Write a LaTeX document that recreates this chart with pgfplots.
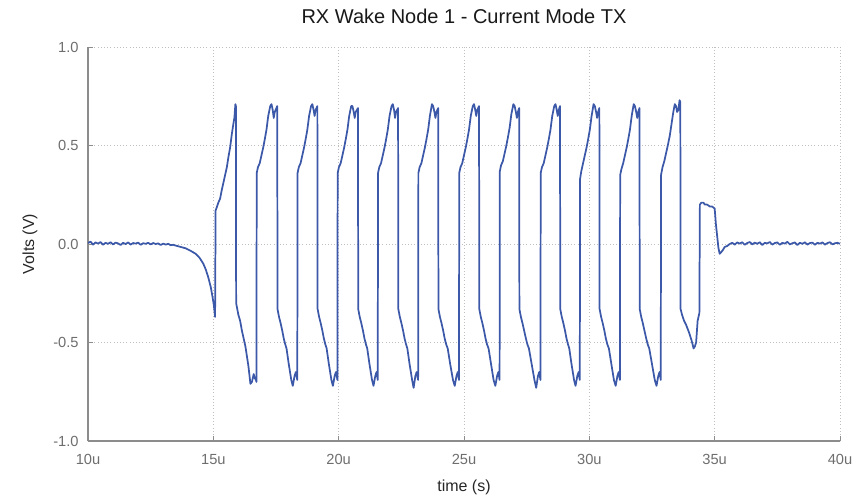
\documentclass[border=0pt]{standalone}
\usepackage{pgfplots}
\pgfplotsset{compat=1.18}
\usepackage{fontspec}
\setmainfont{Liberation Sans}
\definecolor{wave}{RGB}{60,88,168}
\definecolor{tickgray}{RGB}{110,110,110}
\definecolor{axgray}{RGB}{140,140,140}
\definecolor{gridgray}{RGB}{190,190,190}
\begin{document}
\begin{tikzpicture}
\begin{axis}[
  at={(0,0)}, anchor=south west,
  scale only axis, width=564pt, height=295.5pt,
  xmin=10, xmax=40, ymin=-1, ymax=1,
  xtick={10,15,20,25,30,35,40},
  xticklabels={10u,15u,20u,25u,30u,35u,40u},
  ytick={-1,-0.5,0,0.5,1},
  yticklabels={-1.0,-0.5,0.0,0.5,1.0},
  axis x line*=bottom, axis y line*=left,
  axis line style={axgray, line width=0.9pt},
  tick align=inside, major tick length=4pt,
  tick style={axgray, line width=0.6pt},
  grid=major,
  major grid style={gridgray, dotted, line width=0.6pt},
  ticklabel style={font=\fontsize{11}{13}\selectfont, text=tickgray},
  /pgf/number format/assume math mode=true,
  xticklabel style={yshift=-6.5pt},
  yticklabel style={xshift=-3.5pt},
  xlabel={time (s)}, ylabel={Volts (V)},
  label style={font=\fontsize{12}{14}\selectfont, text=black!85},
  xlabel style={yshift=-4.5pt},
  ylabel style={yshift=5pt},
  title={RX Wake Node 1 - Current Mode TX},
  title style={font=\fontsize{15}{18}\selectfont, text=black!90, yshift=8pt},
]
\addplot[wave, line width=1.3pt, line join=round] table {
10.0 0.005
10.1 0.012
10.2 -0.003
10.3 0.008
10.4 0.002
10.5 0.010
10.6 -0.004
10.7 0.006
10.8 0.001
10.9 0.009
11.0 -0.002
11.1 0.007
11.2 0.003
11.3 -0.005
11.4 0.006
11.5 0.000
11.6 0.008
11.7 -0.003
11.8 0.005
11.9 0.002
12.0 0.007
12.1 -0.004
12.2 0.004
12.3 0.001
12.4 0.006
12.5 -0.002
12.6 0.005
12.7 0.000
12.8 0.003
12.9 -0.005
13.0 0.002
13.1 -0.003
13.2 0.001
13.3 -0.006
13.4 -0.004
13.5 -0.008
13.7 -0.015
13.9 -0.022
14.1 -0.035
14.3 -0.05
14.45 -0.07
14.6 -0.10
14.7 -0.13
14.8 -0.17
14.9 -0.22
14.97 -0.27
15.02 -0.31
15.07 -0.37
15.09 0.17
15.12 0.18
15.2 0.21
15.27 0.23
15.33 0.27
15.40 0.31
15.47 0.35
15.54 0.39
15.60 0.44
15.67 0.49
15.74 0.56
15.80 0.61
15.84 0.64
15.88 0.71
15.90 0.70
15.91 -0.30
16.0 -0.36
16.07 -0.39
16.14 -0.44
16.21 -0.48
16.28 -0.52
16.34 -0.57
16.40 -0.62
16.48 -0.71
16.54 -0.70
16.61 -0.66
16.65 -0.68
16.70 -0.69
16.72 -0.70
16.73 0.36
16.78 0.39
16.85 0.41
16.92 0.45
16.99 0.49
17.05 0.53
17.12 0.58
17.19 0.65
17.27 0.70
17.32 0.71
17.37 0.68
17.41 0.64
17.45 0.67
17.55 0.70
17.56 -0.33
17.62 -0.37
17.68 -0.40
17.75 -0.44
17.81 -0.48
17.87 -0.51
17.92 -0.53
18.01 -0.61
18.11 -0.69
18.17 -0.72
18.24 -0.67
18.29 -0.65
18.35 -0.69
18.36 0.36
18.41 0.39
18.48 0.41
18.55 0.45
18.62 0.49
18.68 0.53
18.75 0.58
18.82 0.65
18.90 0.70
18.95 0.71
19.00 0.68
19.04 0.65
19.08 0.68
19.15 0.70
19.16 -0.33
19.22 -0.37
19.28 -0.40
19.35 -0.44
19.41 -0.48
19.47 -0.51
19.52 -0.53
19.61 -0.61
19.71 -0.69
19.77 -0.72
19.84 -0.67
19.89 -0.65
19.95 -0.69
19.96 0.36
20.01 0.39
20.08 0.41
20.15 0.45
20.22 0.49
20.28 0.53
20.35 0.58
20.42 0.65
20.50 0.70
20.55 0.70
20.60 0.67
20.64 0.64
20.68 0.67
20.77 0.69
20.78 -0.33
20.84 -0.37
20.90 -0.40
20.97 -0.44
21.03 -0.48
21.09 -0.51
21.14 -0.53
21.23 -0.61
21.33 -0.69
21.39 -0.72
21.46 -0.67
21.51 -0.65
21.56 -0.69
21.57 0.36
21.62 0.39
21.69 0.41
21.76 0.45
21.83 0.49
21.89 0.53
21.96 0.58
22.03 0.65
22.11 0.70
22.16 0.71
22.21 0.68
22.25 0.64
22.29 0.67
22.37 0.69
22.38 -0.33
22.44 -0.37
22.50 -0.40
22.57 -0.44
22.63 -0.48
22.69 -0.51
22.74 -0.53
22.83 -0.61
22.93 -0.69
22.99 -0.73
23.06 -0.67
23.11 -0.65
23.17 -0.69
23.18 0.36
23.23 0.39
23.30 0.41
23.37 0.45
23.44 0.49
23.50 0.53
23.57 0.58
23.64 0.65
23.72 0.71
23.77 0.70
23.82 0.67
23.86 0.64
23.90 0.67
23.97 0.69
23.98 -0.33
24.04 -0.37
24.10 -0.40
24.17 -0.44
24.23 -0.48
24.29 -0.51
24.35 -0.53
24.45 -0.61
24.56 -0.69
24.63 -0.72
24.70 -0.67
24.75 -0.65
24.80 -0.69
24.81 0.36
24.86 0.39
24.93 0.41
25.00 0.45
25.07 0.49
25.13 0.53
25.20 0.58
25.27 0.65
25.35 0.70
25.40 0.71
25.45 0.68
25.49 0.65
25.53 0.68
25.60 0.70
25.61 -0.33
25.67 -0.37
25.73 -0.40
25.80 -0.44
25.86 -0.48
25.92 -0.51
25.98 -0.53
26.08 -0.61
26.18 -0.69
26.25 -0.72
26.32 -0.67
26.37 -0.65
26.42 -0.69
26.43 0.37
26.48 0.40
26.55 0.42
26.62 0.46
26.69 0.50
26.75 0.54
26.82 0.59
26.89 0.66
26.97 0.71
27.02 0.70
27.07 0.67
27.11 0.64
27.15 0.67
27.20 0.69
27.21 -0.33
27.27 -0.37
27.33 -0.40
27.40 -0.44
27.47 -0.48
27.53 -0.51
27.59 -0.53
27.70 -0.61
27.81 -0.69
27.88 -0.73
27.95 -0.67
28.00 -0.65
28.05 -0.69
28.06 0.36
28.11 0.39
28.18 0.41
28.25 0.45
28.32 0.49
28.38 0.53
28.45 0.58
28.52 0.65
28.60 0.70
28.65 0.71
28.70 0.68
28.74 0.65
28.78 0.68
28.83 0.70
28.84 -0.33
28.90 -0.37
28.96 -0.40
29.03 -0.44
29.09 -0.48
29.15 -0.51
29.20 -0.53
29.29 -0.61
29.39 -0.69
29.45 -0.72
29.52 -0.67
29.57 -0.65
29.62 -0.69
29.63 0.33
29.68 0.37
29.75 0.41
29.82 0.45
29.89 0.49
29.95 0.53
30.02 0.58
30.09 0.65
30.17 0.71
30.22 0.70
30.27 0.67
30.31 0.64
30.35 0.67
30.40 0.69
30.41 -0.33
30.47 -0.37
30.53 -0.40
30.60 -0.44
30.66 -0.48
30.72 -0.51
30.78 -0.53
30.88 -0.61
30.98 -0.69
31.05 -0.72
31.12 -0.67
31.17 -0.65
31.22 -0.69
31.23 0.35
31.28 0.38
31.35 0.41
31.42 0.45
31.49 0.49
31.55 0.53
31.62 0.58
31.69 0.65
31.77 0.71
31.82 0.70
31.87 0.67
31.91 0.64
31.95 0.67
32.00 0.69
32.01 -0.33
32.07 -0.37
32.13 -0.40
32.20 -0.44
32.27 -0.48
32.33 -0.51
32.39 -0.53
32.50 -0.61
32.61 -0.69
32.68 -0.72
32.75 -0.67
32.80 -0.65
32.85 -0.69
32.86 0.35
32.92 0.39
32.99 0.42
33.06 0.46
33.13 0.50
33.21 0.55
33.28 0.61
33.35 0.67
33.41 0.71
33.46 0.70
33.50 0.67
33.55 0.68
33.60 0.73
33.63 0.72
33.64 -0.33
33.70 -0.36
33.78 -0.39
33.86 -0.41
33.98 -0.45
34.08 -0.49
34.16 -0.53
34.21 -0.52
34.26 -0.50
34.32 -0.39
34.39 -0.35
34.41 0.20
34.47 0.21
34.55 0.21
34.61 0.20
34.70 0.20
34.81 0.19
34.90 0.19
35.00 0.18
35.05 0.10
35.10 0.04
35.15 -0.02
35.20 -0.05
35.27 -0.04
35.33 -0.03
35.40 -0.015
35.50 -0.01
35.60 0.000
35.7 0.006
35.8 -0.003
35.9 0.008
36.0 0.002
36.1 0.009
36.2 -0.004
36.3 0.005
36.4 0.010
36.5 -0.002
36.6 0.007
36.7 0.001
36.8 0.009
36.9 -0.005
37.0 0.006
37.1 0.003
37.2 0.010
37.3 -0.003
37.4 0.005
37.5 0.008
37.6 -0.004
37.7 0.006
37.8 0.002
37.9 0.011
38.0 -0.002
38.1 0.004
38.2 0.008
38.3 -0.005
38.4 0.006
38.5 0.001
38.6 0.009
38.7 -0.003
38.8 0.005
38.9 0.007
39.0 -0.004
39.1 0.006
39.2 0.002
39.3 0.008
39.4 -0.003
39.5 0.005
39.6 0.009
39.7 -0.002
39.8 0.004
39.9 0.006
40.0 0.001
};
\end{axis}
\pgfresetboundingbox
\path (-66pt,-42pt) rectangle (573.75pt,330.75pt);
\end{tikzpicture}
\end{document}
